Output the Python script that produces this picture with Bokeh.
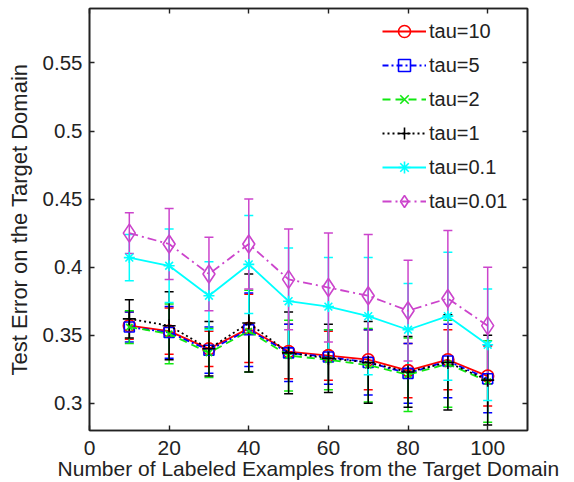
from bokeh.plotting import figure
from bokeh.models import (ColumnDataSource, Whisker, TeeHead, Legend, LegendItem,
                          FixedTicker, CustomJSTickFormatter, LinearAxis, Range1d)
from bokeh.embed import file_html
from bokeh.resources import INLINE

x = [10, 20, 30, 40, 50, 60, 70, 80, 90, 100]

names = ["tau=10", "tau=5", "tau=2", "tau=1", "tau=0.1", "tau=0.01"]

mean_tau10 = [0.357, 0.353, 0.340, 0.355, 0.338, 0.335, 0.332, 0.324, 0.332, 0.320]
err_tau10 = [0.010, 0.017, 0.013, 0.025, 0.020, 0.018, 0.022, 0.020, 0.022, 0.022]

mean_tau5 = [0.356, 0.352, 0.339, 0.354, 0.337, 0.334, 0.330, 0.322, 0.331, 0.318]
err_tau5 = [0.011, 0.019, 0.017, 0.027, 0.021, 0.020, 0.024, 0.022, 0.027, 0.025]

mean_tau2 = [0.356, 0.351, 0.337, 0.353, 0.335, 0.332, 0.328, 0.321, 0.329, 0.316]
err_tau2 = [0.012, 0.022, 0.018, 0.030, 0.026, 0.022, 0.027, 0.027, 0.032, 0.030]

mean_tau1 = [0.362, 0.357, 0.340, 0.359, 0.337, 0.333, 0.330, 0.323, 0.330, 0.317]
err_tau1 = [0.014, 0.025, 0.020, 0.036, 0.030, 0.025, 0.030, 0.026, 0.035, 0.033]

mean_tau01 = [0.407, 0.401, 0.379, 0.402, 0.375, 0.371, 0.364, 0.354, 0.364, 0.343]
err_tau01 = [0.017, 0.027, 0.025, 0.036, 0.039, 0.036, 0.043, 0.034, 0.047, 0.041]

mean_tau001 = [0.425, 0.417, 0.395, 0.417, 0.391, 0.385, 0.379, 0.368, 0.377, 0.357]
err_tau001 = [0.015, 0.026, 0.027, 0.033, 0.037, 0.040, 0.045, 0.037, 0.050, 0.043]

x_ticks = [0, 20, 40, 60, 80, 100]
y_ticks = [0.3, 0.35, 0.4, 0.45, 0.5, 0.55]

series = [
    (names[0], mean_tau10, err_tau10, "#ff0000", "solid", "circle", 12),
    (names[1], mean_tau5, err_tau5, "#0000ff", "6 3 2 3", "square", 10),
    (names[2], mean_tau2, err_tau2, "#11e811", "8 5", "x", 9),
    (names[3], mean_tau1, err_tau1, "#000000", "2 3", "cross", 13),
    (names[4], mean_tau01, err_tau01, "#00ffff", "solid", "asterisk", 11),
    (names[5], mean_tau001, err_tau001, "#cc44cc", "9 4 2 4", "diamond", 18),
]

FONT = "Liberation Sans"

p = figure(frame_width=438, frame_height=422, output_backend="svg", toolbar_location=None,
           x_range=Range1d(0, 110), y_range=Range1d(0.28, 0.59),
           min_border_left=89, min_border_right=36, min_border_top=8, min_border_bottom=0)

p.xgrid.visible = False
p.ygrid.visible = False
p.outline_line_color = "#222222"
p.outline_line_width = 1.6

p.xaxis.ticker = FixedTicker(ticks=x_ticks)
p.yaxis.ticker = FixedTicker(ticks=y_ticks)
p.yaxis.formatter = CustomJSTickFormatter(code="return Number(tick.toFixed(2)).toString();")
p.xaxis.axis_label = "Number of Labeled Examples from the Target Domain"
p.yaxis.axis_label = "Test Error on the Target Domain"

for ax in (p.xaxis[0], p.yaxis[0]):
    ax.major_label_text_font = FONT
    ax.major_label_text_color = "#222222"
    ax.axis_label_text_font = FONT
    ax.axis_label_text_font_style = "normal"
    ax.axis_label_text_color = "#222222"
    ax.major_tick_in = 5
    ax.major_tick_out = 0
    ax.minor_tick_line_color = None
    ax.axis_line_color = "#222222"
    ax.axis_line_width = 1.6
    ax.major_tick_line_color = "#222222"
    ax.major_tick_line_width = 1.4

p.xaxis.major_label_text_font_size = "21px"
p.xaxis.axis_label_text_font_size = "21px"
p.yaxis.major_label_text_font_size = "20.5px"
p.yaxis.axis_label_text_font_size = "22px"

p.xaxis.major_label_standoff = 10
p.xaxis.axis_label_standoff = -1
p.yaxis.major_label_standoff = 7
p.yaxis.axis_label_standoff = 8

# box ticks on top and right
top_ax = LinearAxis(ticker=FixedTicker(ticks=x_ticks),
                    formatter=CustomJSTickFormatter(code="return '';"))
right_ax = LinearAxis(ticker=FixedTicker(ticks=y_ticks),
                      formatter=CustomJSTickFormatter(code="return '';"))
for ax in (top_ax, right_ax):
    ax.major_tick_in = 5
    ax.major_tick_out = 0
    ax.minor_tick_line_color = None
    ax.major_label_standoff = 0
    ax.major_label_text_font_size = "0px"
    ax.axis_line_color = "#222222"
    ax.axis_line_width = 1.6
    ax.major_tick_line_color = "#222222"
    ax.major_tick_line_width = 1.4
p.add_layout(top_ax, "above")
p.add_layout(right_ax, "right")

items = []
for name, m, e, color, dash, marker, size in series:
    lower = [a - b for a, b in zip(m, e)]
    upper = [a + b for a, b in zip(m, e)]
    src = ColumnDataSource(dict(x=x, y=m, lower=lower, upper=upper))
    w = Whisker(base="x", lower="lower", upper="upper", source=src,
                line_color=color, line_width=1.5,
                upper_head=TeeHead(size=9, line_color=color, line_width=1.5),
                lower_head=TeeHead(size=9, line_color=color, line_width=1.5))
    p.add_layout(w)
    ln = p.line("x", "y", source=src, line_color=color, line_width=1.8, line_dash=dash)
    sc = p.scatter("x", "y", source=src, marker=marker, size=size,
                   line_color=color, fill_color=None, line_width=1.6)
    items.append(LegendItem(label=name, renderers=[ln, sc]))

legend = Legend(items=items, location=(293, 214), border_line_color=None,
                background_fill_alpha=0.0, padding=0, margin=0, spacing=4,
                glyph_width=44, glyph_height=30, label_height=20,
                label_standoff=3, label_text_font=FONT, label_text_font_size="20px",
                label_text_color="#222222")
p.add_layout(legend, "center")

open("out.html", "w").write(file_html(p, INLINE))
